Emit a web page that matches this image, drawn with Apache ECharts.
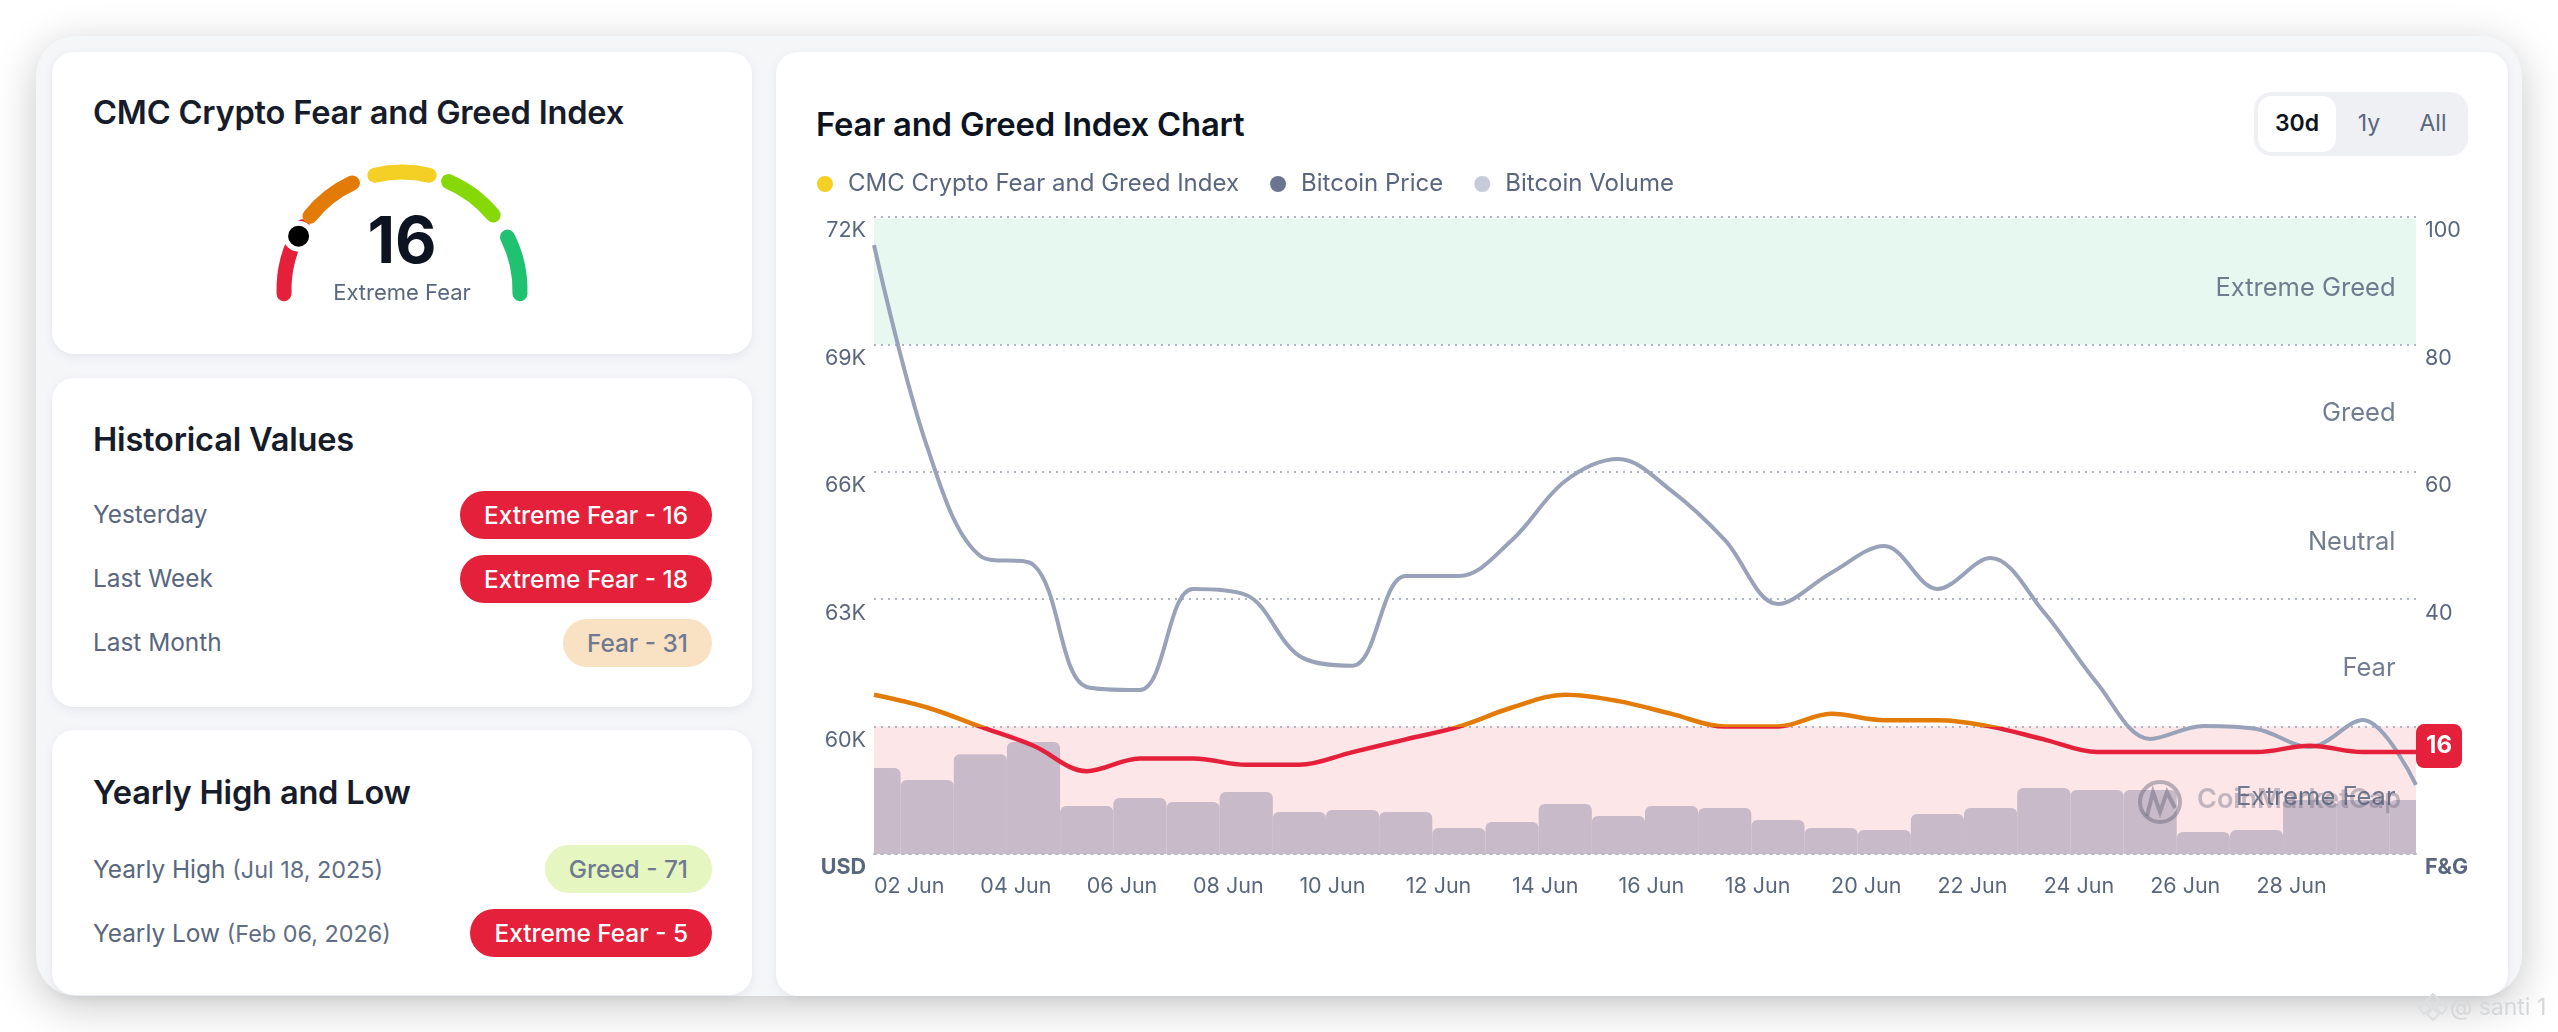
<!DOCTYPE html>
<html><head><meta charset="utf-8">
<script src="https://cdn.jsdelivr.net/npm/echarts@6/dist/echarts.min.js"></script>
<style>
html,body{margin:0;padding:0;background:#fff;width:2558px;height:1032px;overflow:hidden;font-family:Inter,sans-serif;color:#58667e}
#panel{position:absolute;left:36px;top:36px;width:2486px;height:960px;background:#f5f6f8;border-radius:40px;box-shadow:0 10px 44px rgba(0,0,0,.22)}
.card{position:absolute;background:#fff;border-radius:22px;box-shadow:0 3px 10px rgba(88,102,126,.10)}
.t{position:absolute;white-space:nowrap;transform:translateY(-50%);line-height:1}
.h{font-weight:600;color:#171c2b;font-size:32.6px;letter-spacing:-.2px}
.r{font-size:24.4px;color:#58667e}
.r span{font-size:23.4px;color:#616e85}
.p{position:absolute;right:40px;height:48px;line-height:48px;border-radius:24px;padding:0 24px;font-size:24.4px;font-weight:500;white-space:nowrap;transform:translateY(-50%)}
.red{background:#e4203a;color:#fff}.fear{background:#f9e2c3;color:#6f7a92}.greed{background:#e6f6c0;color:#6f7a92}
#rng{position:absolute;left:2254px;top:92px;width:214px;height:64px;background:#eff0f4;border-radius:18px}
#btn{position:absolute;left:2258px;top:96px;width:78px;height:56px;background:#fff;border-radius:14px}
#c{position:absolute;left:0;top:0;width:2558px;height:1032px}
#wm{position:absolute;left:2450px;top:1007px;transform:translateY(-50%);color:#d5d7da;font-size:23px;white-space:nowrap}
#dm{position:absolute;left:2418px;top:992px;width:30px;height:30px}
</style></head><body>
<div id="panel"></div>
<div class="card" style="left:52px;top:52px;width:700px;height:302px"></div>
<div class="card" style="left:52px;top:378px;width:700px;height:329px"></div>
<div class="card" style="left:52px;top:730px;width:700px;height:265px"></div>
<div class="card" style="left:776px;top:52px;width:1732px;height:944px"></div>
<div class="t h" style="left:93px;top:112px">CMC Crypto Fear and Greed Index</div>
<div class="t h" style="left:93px;top:439px">Historical Values</div>
<div class="t h" style="left:93px;top:792px">Yearly High and Low</div>
<div class="t r" style="left:93px;top:514px">Yesterday</div>
<div class="t r" style="left:93px;top:578px">Last Week</div>
<div class="t r" style="left:93px;top:642px">Last Month</div>
<div class="t r" style="left:93px;top:869px">Yearly High <span>(Jul 18, 2025)</span></div>
<div class="t r" style="left:93px;top:933px">Yearly Low <span>(Feb 06, 2026)</span></div>
<div class="p red" style="right:1846px;top:515px">Extreme Fear - 16</div>
<div class="p red" style="right:1846px;top:579px">Extreme Fear - 18</div>
<div class="p fear" style="right:1846px;top:643px">Fear - 31</div>
<div class="p greed" style="right:1846px;top:869px">Greed - 71</div>
<div class="p red" style="right:1846px;top:933px">Extreme Fear - 5</div>
<div class="t" style="left:816px;top:124px;font-size:32.8px;font-weight:600;color:#0d1421;letter-spacing:-.2px">Fear and Greed Index Chart</div>
<div id="rng"></div><div id="btn"></div>
<div class="t" style="left:2297px;top:123px;font-size:23px;font-weight:600;color:#0d1421;transform:translate(-50%,-50%)">30d</div>
<div class="t" style="left:2369px;top:123px;font-size:23px;color:#58667e;transform:translate(-50%,-50%)">1y</div>
<div class="t" style="left:2433px;top:123px;font-size:23px;color:#58667e;transform:translate(-50%,-50%)">All</div>
<div id="c"></div>
<svg id="dm" viewBox="0 0 30 30" fill="none" stroke="#dcdee2" stroke-width="2"><path d="M15 2l6 6-6 6-6-6zM6 10l6 6-6 6-5-6zM24 10l5 6-5 6-6-6zM15 16l6 6-6 6-6-6z"/></svg>
<div id="wm">@ santi 1</div>
<script>
const days = ['02 Jun','03 Jun','04 Jun','05 Jun','06 Jun','07 Jun','08 Jun','09 Jun','10 Jun','11 Jun','12 Jun','13 Jun','14 Jun','15 Jun','16 Jun','17 Jun','18 Jun','19 Jun','20 Jun','21 Jun','22 Jun','23 Jun','24 Jun','25 Jun','26 Jun','27 Jun','28 Jun','29 Jun','30 Jun','01 Jul'];
const fearGreed = [25,23,20,17,13,15,15,14,14,16,18,20,23,25,24,22,20,20,22,21,21,20,18,16,16,16,16,17,16,16];
const btcPrice = [71340,66585,64018,63806,60933,60862,63241,63099,61663,61434,63547,63547,64395,65784,66302,65549,64395,62888,63618,64253,63241,63971,62699,61027,59708,60014,59944,59520,60156,58625];
const btcVolume = [40.5,34.9,47,52.8,22.6,26.4,24.5,29.2,19.8,20.7,19.8,12.2,15.1,23.6,17.9,22.6,21.7,16,12.2,11.3,18.8,21.7,31.1,30.1,30.1,10.4,11.3,25.4,25.4,25.4];
const zoneNames = ['Extreme Fear','Fear','Neutral','Greed','Extreme Greed'];
const zoneMids = [10,30,50,70,90];
const gaugeSegments = [[-1,18],[21.5,36.2],[42.6,57.4],[62.9,78.1],[85.2,101]];
const gaugeColors = ['#e4203a','#e27b08','#f3d023','#87d808','#20c272'];
const currentValue = 16;
const txt='#58667e', dark='#4f5c76', font='Inter';
const GC=[402,290], GR=125.5;
const gaugeSeries = gaugeSegments.map((s,i)=>({
  type:'gauge',center:GC,radius:GR,startAngle:180-1.8*s[0],endAngle:180-1.8*s[1],min:0,max:1,silent:true,z:2,
  axisLine:{roundCap:true,lineStyle:{width:15,color:[[1,gaugeColors[i]]]}},
  pointer:{show:false},progress:{show:false},axisTick:{show:false},splitLine:{show:false},axisLabel:{show:false},detail:{show:false},title:{show:false},
  data:[{value:1}]
}));
const ch = echarts.init(document.getElementById('c'),null,{renderer:'canvas'});
ch.setOption({
  animation:false,
  textStyle:{fontFamily:font},
  legend:{left:812,top:167,itemWidth:16,itemHeight:16,itemGap:31,selectedMode:false,icon:'circle',
    textStyle:{fontFamily:font,fontSize:24,color:txt,padding:[0,0,0,10]},
    data:[{name:'CMC Crypto Fear and Greed Index',itemStyle:{color:'#f3d023'}},{name:'Bitcoin Price',itemStyle:{color:'#6c7590'}},{name:'Bitcoin Volume',itemStyle:{color:'#c6cbd7'}}]},
  grid:{left:874,top:217,width:1542,height:637},
  xAxis:{type:'category',data:days,boundaryGap:false,z:3,
    axisLine:{show:true,lineStyle:{type:[2,5],color:'#b5bac7',width:2}},axisTick:{show:false},
    axisLabel:{interval:(i)=>i%2===0&&i<28,align:'left',margin:22,fontSize:21.5,color:txt,fontFamily:font}},
  yAxis:[
    {type:'value',min:57000,max:72000,interval:3000,position:'left',z:1.5,
     axisLine:{show:false},axisTick:{show:false},
     splitLine:{show:true,lineStyle:{type:[2,5],color:'#b0b5c3',width:2}},
     axisLabel:{margin:8,fontSize:21.5,color:txt,fontFamily:font,verticalAlign:'top',lineHeight:28,
       formatter:v=>v===57000?'{b|USD}':(v/1000)+'K',rich:{b:{fontWeight:700,fontSize:21.5,color:txt,fontFamily:font,lineHeight:28}}}},
    {type:'value',min:0,max:100,interval:20,position:'right',
     axisLine:{show:false},axisTick:{show:false},splitLine:{show:false},
     axisLabel:{margin:9,fontSize:21.5,color:txt,fontFamily:font,verticalAlign:'top',lineHeight:28,
       formatter:v=>v===0?'{b|F&G}':String(v),rich:{b:{fontWeight:700,fontSize:21.5,color:txt,fontFamily:font,lineHeight:28}}}},
    {type:'value',min:0,max:300,show:false}
  ],
  polar:{center:GC,radius:[0,118]},
  angleAxis:{type:'value',min:0,max:200,startAngle:180,clockwise:true,show:false},
  radiusAxis:{type:'value',min:0,max:1,show:false},
  visualMap:{show:false,type:'piecewise',seriesIndex:3,dimension:1,
    pieces:[{max:20,color:'#e4203a'},{min:20,max:40,color:'#e27b08'},{min:40,max:60,color:'#f3d023'},{min:60,max:80,color:'#87d808'},{min:80,color:'#20c272'}]},
  series:[
    {type:'line',name:'zones',data:[],yAxisIndex:1,z:1,silent:true,
     markArea:{silent:true,data:[
       [{yAxis:80,itemStyle:{color:'#e7f8f0'}},{yAxis:99.7}],
       [{yAxis:0,itemStyle:{color:'#fce6e8'}},{yAxis:20}]]}},
    {type:'custom',name:'Bitcoin Volume',data:btcVolume.map((v,i)=>[i,v]),yAxisIndex:2,clip:true,z:2,silent:true,
     encode:{x:0,y:1},
     renderItem:(params,api)=>{
       const top=api.coord([api.value(0),api.value(1)]);
       const base=api.coord([api.value(0),0]);
       const w=api.size([1,0])[0];
       return {type:'rect',shape:{x:top[0]-w/2,y:top[1],width:w,height:base[1]-top[1],r:[6,6,0,0]},style:{fill:'#c8bac8'}};
     }},
    {type:'line',name:'Bitcoin Price',data:btcPrice,yAxisIndex:0,smooth:0.35,showSymbol:false,z:4,silent:true,
     lineStyle:{color:'#98a2b8',width:4},itemStyle:{color:'#98a2b8'}},
    {type:'line',name:'CMC Crypto Fear and Greed Index',data:fearGreed,yAxisIndex:1,smooth:0.35,showSymbol:false,z:5,silent:true,
     lineStyle:{width:4.5},
     endLabel:{show:true,distance:0,offset:[0,-6],formatter:p=>'{a|'+p.value+'}',
       rich:{a:{color:'#fff',fontFamily:font,fontWeight:700,fontSize:24,backgroundColor:'#e4203a',borderRadius:8,width:46,height:44,lineHeight:44,align:'center'}}}},
    {type:'scatter',name:'zoneLabels',yAxisIndex:1,z:8,silent:true,symbolSize:1,itemStyle:{color:'transparent'},
     data:zoneMids.map((v,i)=>({value:[days.length-1,v],label:{formatter:zoneNames[i],offset:[0,i===1?5:i===3?5:i===4?8:7]}})),
     label:{show:true,position:'left',distance:20,fontSize:25.5,color:dark,fontFamily:font}},
    ...gaugeSeries,
    {type:'scatter',coordinateSystem:'polar',name:'needle',data:[[1,currentValue]],symbol:'circle',symbolSize:26,symbolOffset:[0,3],z:6,silent:true,
     itemStyle:{color:'#000',borderColor:'#fff',borderWidth:5,opacity:1}}
  ],
  graphic:[
    {type:'text',z:10,style:{x:402,y:244,text:'16',fontFamily:font,fontWeight:700,fontSize:64,fill:'#0d1421',align:'center',verticalAlign:'middle'}},
    {type:'text',z:10,style:{x:402,y:293,text:'Extreme Fear',fontFamily:font,fontSize:22,fill:txt,align:'center',verticalAlign:'middle'}},
    {type:'circle',z:6,silent:true,shape:{cx:2160,cy:802,r:20},style:{fill:'none',stroke:'rgba(100,100,120,.45)',lineWidth:4}},
    {type:'polyline',z:6,silent:true,shape:{points:[[2147,816],[2153,792],[2160,812],[2167,792],[2175,808]]},style:{fill:'none',stroke:'rgba(100,100,120,.45)',lineWidth:4}},
    {type:'text',z:6,silent:true,left:2197,top:786,style:{text:'CoinMarketCap',fontFamily:font,fontWeight:600,fontSize:27,fill:'rgba(100,100,120,.38)'}}
  ]
});
</script>
</body></html>
